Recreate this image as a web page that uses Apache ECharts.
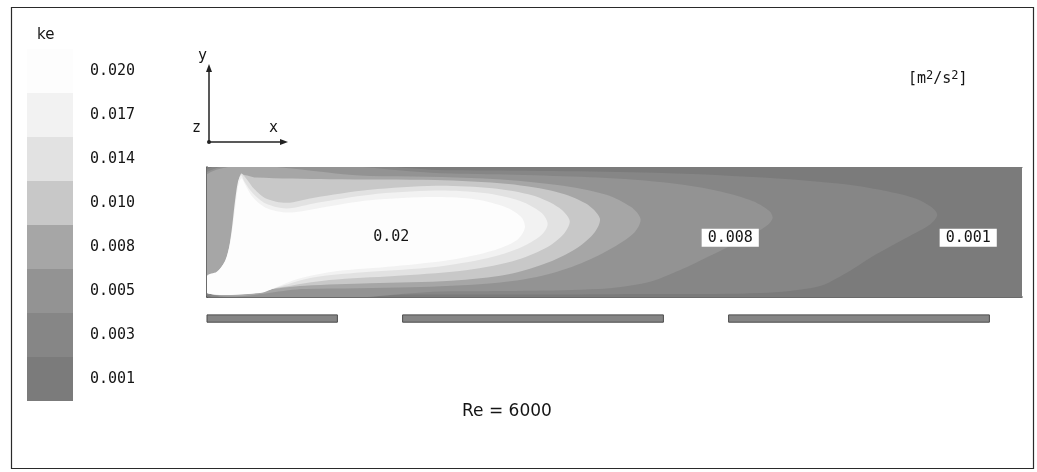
<!DOCTYPE html>
<html>
<head>
<meta charset="utf-8">
<script src="https://cdn.jsdelivr.net/npm/echarts@6/dist/echarts.min.js"></script>
<style>
  html, body { margin: 0; padding: 0; background: #fff; }
  #chart { width: 1037px; height: 472px; }
</style>
</head>
<body>
<div id="chart"></div>
<script>
// Turbulent kinetic energy levels (m^2/s^2) and their legend labels
const levels = [0.001, 0.003, 0.005, 0.008, 0.010, 0.014, 0.017, 0.020];
const levelLabels = ['0.001', '0.003', '0.005', '0.008', '0.010', '0.014', '0.017', '0.020'];

// Iso-band outlines in channel coordinates (x: 0..100 along the channel, y: 0..16 wall to wall)
const iso001 = [[0, 0], [100, 0], [100, 16], [0, 16]];
const iso003 = [[0, 15.7], [30, 15.6], [55, 15.3], [70, 14.6], [78, 13.9], [83, 13.1], [87, 12.1], [89, 11.0], [89.6, 10.1], [88.8, 9.0], [86, 7.4], [82, 5.2], [78.5, 3.0], [75, 1.3], [68, 0.5], [50, 0.35], [25, 0.3], [0, 0.3]];
const iso005 = [[0, 15.4], [30, 15.2], [48, 14.7], [57, 14.0], [63, 13.0], [67, 11.8], [69, 10.6], [69.4, 9.7], [68.6, 8.7], [66, 7.2], [62, 5.2], [58, 3.3], [54, 1.8], [48, 1.0], [30, 0.7], [0, 0.6]];
const iso008 = [[0, 15.1], [20, 14.9], [34, 14.6], [43, 13.8], [49, 12.6], [52, 11.1], [53.2, 9.6], [52.5, 8.0], [50, 6.2], [46, 4.2], [41, 2.6], [35, 1.7], [25, 1.2], [12, 1.0], [0, 0.9]];
const iso010 = [[0, 0.5], [0, 2.2], [1.4, 2.8], [2.6, 4.4], [3.2, 7.5], [3.6, 11], [3.9, 13.5], [4.1, 15.0], [6, 14.7], [15, 14.5], [28, 14.4], [37, 13.9], [43, 12.9], [46.5, 11.5], [48.2, 9.7], [47.6, 8.0], [45.5, 6.1], [42, 4.3], [37, 2.8], [30, 2.0], [20, 1.7], [12, 1.4], [7, 0.9], [3, 0.5]];
const iso014 = [[0, 0.5], [0, 2.4], [1.3, 2.9], [2.5, 4.6], [3.1, 7.8], [3.5, 11.2], [3.9, 14.0], [4.2, 15.2], [4.8, 14.6], [5.8, 13.3], [7.3, 12.1], [9.8, 11.6], [13, 12.2], [20, 13.2], [28, 13.7], [35, 13.4], [40, 12.5], [43.2, 11.0], [44.5, 9.4], [43.8, 7.8], [41.5, 6.0], [37.5, 4.4], [31, 3.2], [23, 2.6], [15, 2.1], [9, 1.2], [5, 0.5]];
const iso017 = [[0, 0.5], [0, 2.5], [1.2, 3.0], [2.4, 4.8], [3.0, 8.0], [3.4, 11.5], [3.8, 14.2], [4.2, 15.0], [4.6, 14.2], [5.6, 12.8], [7.2, 11.5], [9.8, 10.9], [13.5, 11.6], [20, 12.6], [28, 13.1], [34, 12.8], [38.5, 11.8], [41, 10.4], [41.8, 9.0], [41, 7.6], [38.5, 6.1], [34.5, 4.8], [28, 3.7], [20, 3.1], [13, 2.4], [9, 1.3], [6, 0.5]];
const iso020 = [[0, 0.5], [0, 2.6], [1.2, 3.1], [2.2, 4.4], [2.9, 7.0], [3.4, 10.5], [3.8, 13.5], [4.2, 14.6], [4.7, 13.8], [5.6, 12.3], [7.2, 11.0], [10, 10.4], [14, 11.0], [20, 11.9], [28, 12.3], [33, 12.0], [36.8, 11.0], [38.6, 9.8], [39, 8.5], [38, 7.0], [35, 5.7], [30, 4.6], [23, 3.8], [16, 3.2], [11, 2.2], [8.5, 1.2], [6.5, 0.5]];
const isoBands = [iso001, iso003, iso005, iso008, iso010, iso014, iso017, iso020];

// Contour labels: [x, y, level]
const contourLabels = [[22.6, 7.4, 0.02], [64.2, 7.3, 0.008], [93.4, 7.3, 0.001]];

// Heated wall segments below the channel: [start x, end x]
const heatedSegments = [[0, 16], [24, 56], [64, 96]];

const reynolds = 6000;

// Gray scale for the bands, low to high
const grays = ['#7b7b7b', '#868686', '#939393', '#a6a6a6', '#c8c8c8', '#e2e2e2', '#f2f2f2', '#fdfdfd'];

const MONO = '"DejaVu Sans Mono", "Liberation Mono", monospace';
const SANS = '"DejaVu Sans", "Liberation Sans", sans-serif';
const INK = '#141414';

const chart = echarts.init(document.getElementById('chart'), null, { renderer: 'canvas' });

const option = {
  animation: false,
  backgroundColor: '#ffffff',
  grid: { left: 207, top: 167, width: 815, height: 130, show: false },
  xAxis: [
    {
      type: 'value', min: 0, max: 100, position: 'bottom',
      axisLine: { show: true, onZero: false, lineStyle: { color: '#3a3a3a', width: 1.5 } },
      axisTick: { show: false }, axisLabel: { show: false }, splitLine: { show: false }
    },
    {
      type: 'value', min: 0, max: 100, position: 'top',
      axisLine: { show: true, onZero: false, lineStyle: { color: '#5e5e5e', width: 1 } },
      axisTick: { show: false }, axisLabel: { show: false }, splitLine: { show: false }
    }
  ],
  yAxis: {
    type: 'value', min: 0, max: 16,
    axisLine: { show: true, onZero: false, lineStyle: { color: '#3a3a3a', width: 1.5 } },
    axisTick: { show: false }, axisLabel: { show: false }, splitLine: { show: false }
  },
  visualMap: {
    type: 'piecewise',
    seriesIndex: 0,
    dimension: 1,
    orient: 'vertical',
    left: 27,
    top: 49,
    padding: 0,
    itemWidth: 46,
    itemHeight: 44,
    itemGap: 0,
    itemSymbol: 'rect',
    align: 'left',
    textGap: 17,
    selectedMode: false,
    hoverLink: false,
    pieces: levels.map((v, i) => ({ value: v, label: levelLabels[i], color: grays[i] })),
    textStyle: { fontFamily: MONO, fontSize: 15, color: INK, padding: [4, 0, 0, 0] }
  },
  series: [
    {
      // filled iso-bands, lowest level first
      type: 'custom',
      clip: true,
      silent: true,
      encode: { x: 0, y: 1 },
      data: levels.map((v, i) => [i, v]),
      renderItem: function (params, api) {
        const band = isoBands[params.dataIndex];
        const pts = band.map(p => api.coord(p));
        return {
          type: 'polygon',
          shape: { points: pts, smooth: params.dataIndex === 0 ? 0 : 0.3 },
          style: { fill: api.visual('color') }
        };
      }
    },
    {
      // heated wall segments
      type: 'custom',
      clip: false,
      silent: true,
      encode: { x: [0, 1] },
      data: heatedSegments,
      renderItem: function (params, api) {
        const a = api.coord([api.value(0), -2.2]);
        const b = api.coord([api.value(1), -3.1]);
        return {
          type: 'rect',
          shape: { x: a[0], y: a[1], width: b[0] - a[0], height: b[1] - a[1] },
          style: { fill: '#858585', stroke: '#4a4a4a', lineWidth: 1 }
        };
      }
    },
    {
      // contour value labels
      type: 'scatter',
      silent: true,
      symbolSize: 0,
      itemStyle: { opacity: 1 },
      data: contourLabels.map(d => ({
        value: d,
        label: d[2] >= 0.02
          ? { backgroundColor: 'transparent' }
          : { backgroundColor: '#ffffff', padding: [2, 6, 1, 6] }
      })),
      label: {
        show: true,
        position: 'inside',
        formatter: p => String(p.value[2]),
        fontFamily: MONO,
        fontSize: 15,
        color: INK,
        opacity: 1,
        textBorderWidth: 0
      }
    }
  ],
  graphic: [
    // outer frame
    {
      type: 'rect', left: 9, top: 5, silent: true,
      shape: { width: 1022, height: 461 },
      style: { fill: 'none', stroke: '#2a2a2a', lineWidth: 1.2 }
    },
    { type: 'text', left: 37, top: 28, style: { text: 'ke', font: '15px ' + SANS, fill: INK } },
    {
      type: 'text', left: 908, top: 70,
      style: {
        text: '[m{sup|2}/s{sup|2}]',
        font: '15px ' + MONO, fill: INK,
        rich: { sup: { fontSize: 12, fontFamily: MONO, verticalAlign: 'top', padding: [0, 0, 7, 0] } }
      }
    },
    // coordinate triad
    { type: 'line', shape: { x1: 209, y1: 142, x2: 209, y2: 68 }, style: { stroke: '#222', lineWidth: 1.5 } },
    { type: 'polygon', shape: { points: [[206, 72], [212, 72], [209, 64]] }, style: { fill: '#222' } },
    { type: 'line', shape: { x1: 209, y1: 142, x2: 283, y2: 142 }, style: { stroke: '#222', lineWidth: 1.5 } },
    { type: 'polygon', shape: { points: [[280, 139], [280, 145], [288, 142]] }, style: { fill: '#222' } },
    { type: 'circle', shape: { cx: 209, cy: 142, r: 2 }, style: { fill: '#222' } },
    { type: 'text', left: 198, top: 49, style: { text: 'y', font: '15px ' + MONO, fill: INK } },
    { type: 'text', left: 192, top: 121, style: { text: 'z', font: '15px ' + MONO, fill: INK } },
    { type: 'text', left: 269, top: 121, style: { text: 'x', font: '15px ' + MONO, fill: INK } },
    {
      type: 'text', left: 462, top: 403,
      style: { text: 'Re = ' + reynolds, font: '17px ' + SANS, fill: INK }
    }
  ]
};

chart.setOption(option);
</script>
</body>
</html>
